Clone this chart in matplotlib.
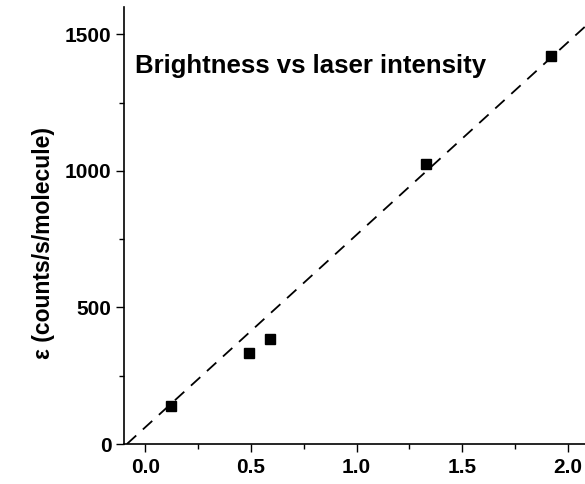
import numpy as np
import matplotlib
matplotlib.use("Agg")
import matplotlib.pyplot as plt
from matplotlib.ticker import MultipleLocator

# measured brightness per molecule at each laser intensity
intensity = [0.12, 0.49, 0.59, 1.33, 1.92]
brightness = [141, 335, 386, 1026, 1421]

# linear guide line (slope, intercept)
fit_slope = 705.0
fit_intercept = 61.0

plt.rcParams['font.family'] = ['Liberation Sans', 'DejaVu Sans']
plt.rcParams['font.weight'] = 'bold'

fig = plt.figure(figsize=(5.85, 4.84), dpi=100)
ax = fig.add_axes([0.212, 0.0826, 0.795, 0.903])

x_line = np.array([-fit_intercept / fit_slope, 2.3])
ax.plot(x_line, fit_slope * x_line + fit_intercept, color='black', lw=1.3,
        linestyle=(0, (7, 5)))
ax.plot(intensity, brightness, 's', color='black', markersize=7.7)

ax.set_xlim(-0.1, 2.1)
ax.set_ylim(0, 1600)
ax.xaxis.set_major_locator(MultipleLocator(0.5))
ax.xaxis.set_minor_locator(MultipleLocator(0.25))
ax.yaxis.set_major_locator(MultipleLocator(500))
ax.yaxis.set_minor_locator(MultipleLocator(250))
ax.xaxis.set_major_formatter(plt.FormatStrFormatter('%.1f'))

ax.spines['top'].set_visible(False)
ax.spines['right'].set_visible(False)
ax.spines['left'].set_linewidth(1.2)
ax.spines['bottom'].set_linewidth(1.2)
ax.tick_params(which='major', length=6, width=1.0, labelsize=15, pad=3)
ax.tick_params(which='minor', length=3.5, width=1.0)
ax.tick_params(axis='x', which='major', pad=4)

ax.set_ylabel('ε (counts/s/molecule)', fontsize=16.5, fontweight='bold')
ax.yaxis.set_label_coords(-0.148, 0.46)

ax.text(0.024, 0.865, 'Brightness vs laser intensity', transform=ax.transAxes,
        fontsize=18.5, fontweight='bold', va='center', ha='left')

fig.savefig('out.png', dpi=100)
